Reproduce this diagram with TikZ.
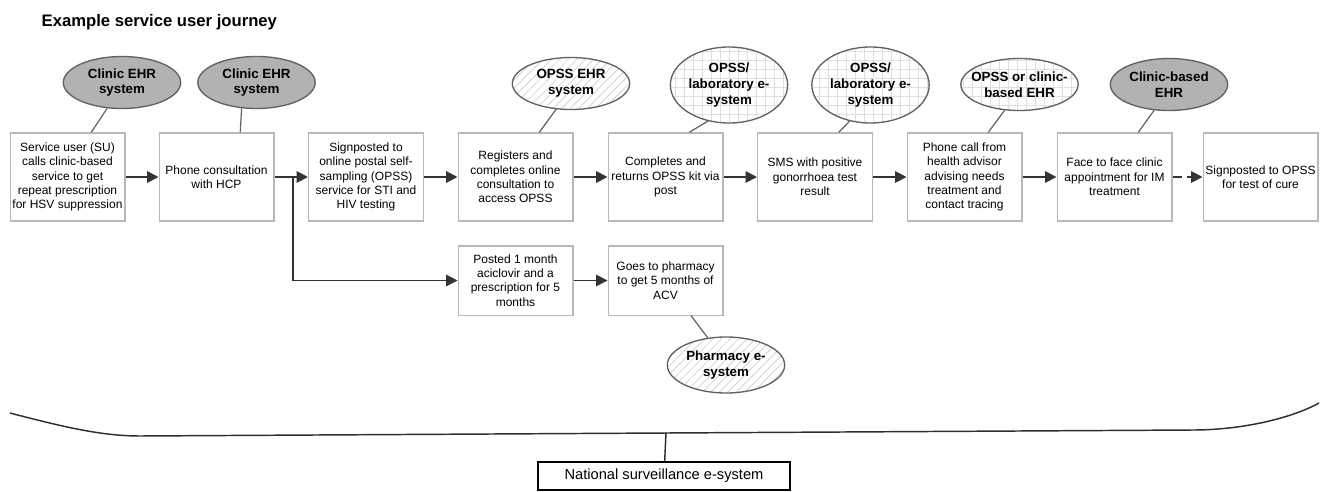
\documentclass[tikz,border=0pt]{standalone}
\usepackage{fontspec}
\setmainfont{Liberation Sans}
\usepackage{tikz}
\usetikzlibrary{arrows.meta, positioning, calc, shapes.geometric, patterns.meta}

\tikzset{
  stage/.style={draw=black!28, line width=1pt, fill=white, align=center,
    minimum width=86pt, minimum height=66pt, inner sep=1pt,
    font=\fontsize{9}{10.8}\selectfont},
  minor/.style={stage, minimum height=52pt},
  esys/.style={ellipse, draw=black!62, line width=1pt, align=center,
    minimum width=88pt, minimum height=39pt, inner xsep=-8pt, inner ysep=0pt,
    font=\bfseries\fontsize{10}{11.8}\selectfont},
  clinicsys/.style={esys, fill=black!30},
  opsssys/.style={esys, pattern={Lines[angle=45,distance=4.5pt,line width=0.5pt]},
    pattern color=black!20},
  labsys/.style={esys, pattern={Hatch[angle=0,distance=6.75pt,line width=0.5pt]},
    pattern color=black!13},
  flow/.style={-{Triangle[length=8.5pt,width=8.5pt]}, draw=black!80, line width=1.4pt},
  tie/.style={draw=black!62, line width=0.9pt}
}

\begin{document}
\begin{tikzpicture}[x=0.75pt, y=-0.75pt]
  \useasboundingbox (0,0) rectangle (1321,492);
  % Title
  \node[anchor=base west, font=\bfseries\fontsize{12.5}{15}\selectfont] (title) at (37,27)
    {Example service user journey};
  % Main journey
  \node[stage] (su) at (67.5,177) {Service user (SU)\\calls clinic-based\\service to get\\repeat prescription\\for HSV suppression};
  \node[stage] (phone) at (216.5,177) {Phone consultation\\with HCP};
  \node[stage] (signpost) at (366,177) {Signposted to\\online postal self-\\sampling (OPSS)\\service for STI and\\HIV testing};
  \node[stage] (register) at (515.5,177) {Registers and\\completes online\\consultation to\\access OPSS};
  \node[stage] (complete) at (665.5,177) {Completes and\\returns OPSS kit via\\post};
  \node[stage] (sms) at (815,177) {SMS with positive\\gonorrhoea test\\result};
  \node[stage] (call) at (964.5,177) {Phone call from\\health advisor\\advising needs\\treatment and\\contact tracing};
  \node[stage] (face) at (1114.5,177) {Face to face clinic\\appointment for IM\\treatment};
  \node[stage] (cure) at (1260.5,177) {Signposted to OPSS\\for test of cure};
  % Prescription branch
  \node[minor] (posted) at (515.5,280.5) {Posted 1 month\\aciclovir and a\\prescription for 5\\months};
  \node[minor] (pharmacy) at (665.5,280.5) {Goes to pharmacy\\to get 5 months of\\ACV};
  % E-systems
  \node[clinicsys] (ehra) at (122,82.5) {Clinic EHR\\system};
  \node[clinicsys] (ehrb) at (256.5,82.5) {Clinic EHR\\system};
  \node[opsssys] (opssehr) at (571,83.5) {OPSS EHR\\system};
  \node[labsys, minimum height=57pt] (laba) at (729,85) {OPSS/\\laboratory e-\\system};
  \node[labsys, minimum height=57pt] (labb) at (870.5,85) {OPSS/\\laboratory e-\\system};
  \node[labsys] (mixed) at (1019.5,84.5) {OPSS or clinic-\\based EHR};
  \node[clinicsys] (clinicehr) at (1169,84.5) {Clinic-based\\EHR};
  \node[opsssys, minimum height=42pt] (pharm) at (726,365) {Pharmacy e-\\system};
  % Links to e-systems
  \foreach \e/\s in {ehra/su, ehrb/phone, opssehr/register, laba/complete,
                     labb/sms, mixed/call, clinicehr/face}
    \draw[tie] (\e.-120) -- (\s.62);
  \draw[tie] (pharmacy.-54) -- (pharm.124);
  % Flow arrows
  \draw[flow] (su) -- (phone);
  \draw[flow] (phone) -- (signpost);
  \draw[flow] (signpost) -- (register);
  \draw[flow] (register) -- (complete);
  \draw[flow] (complete) -- (sms);
  \draw[flow] (sms) -- (call);
  \draw[flow] (call) -- (face);
  \draw[flow, dash pattern=on 7pt off 4pt] (face) -- (cure);
  \coordinate (fork) at (293,177);
  \draw[flow] (fork) |- (posted);
  \draw[flow] (posted) -- (pharmacy);
  % Surveillance
  \draw[black!82, line width=1.1pt] (10,413) .. controls (60,426) and (100,436) .. (140,436)
    -- (1193,430) .. controls (1240,430) and (1290,419) .. (1319,403);
  \coordinate (tap) at (666,432.5);
  \node[draw=black, line width=1.5pt, minimum width=189pt, minimum height=21pt,
    font=\fontsize{11}{13}\selectfont] (national) at (664,476) {National surveillance e-system};
  \draw[black!82, line width=1.1pt] (tap) -- (national);
\end{tikzpicture}
\end{document}
